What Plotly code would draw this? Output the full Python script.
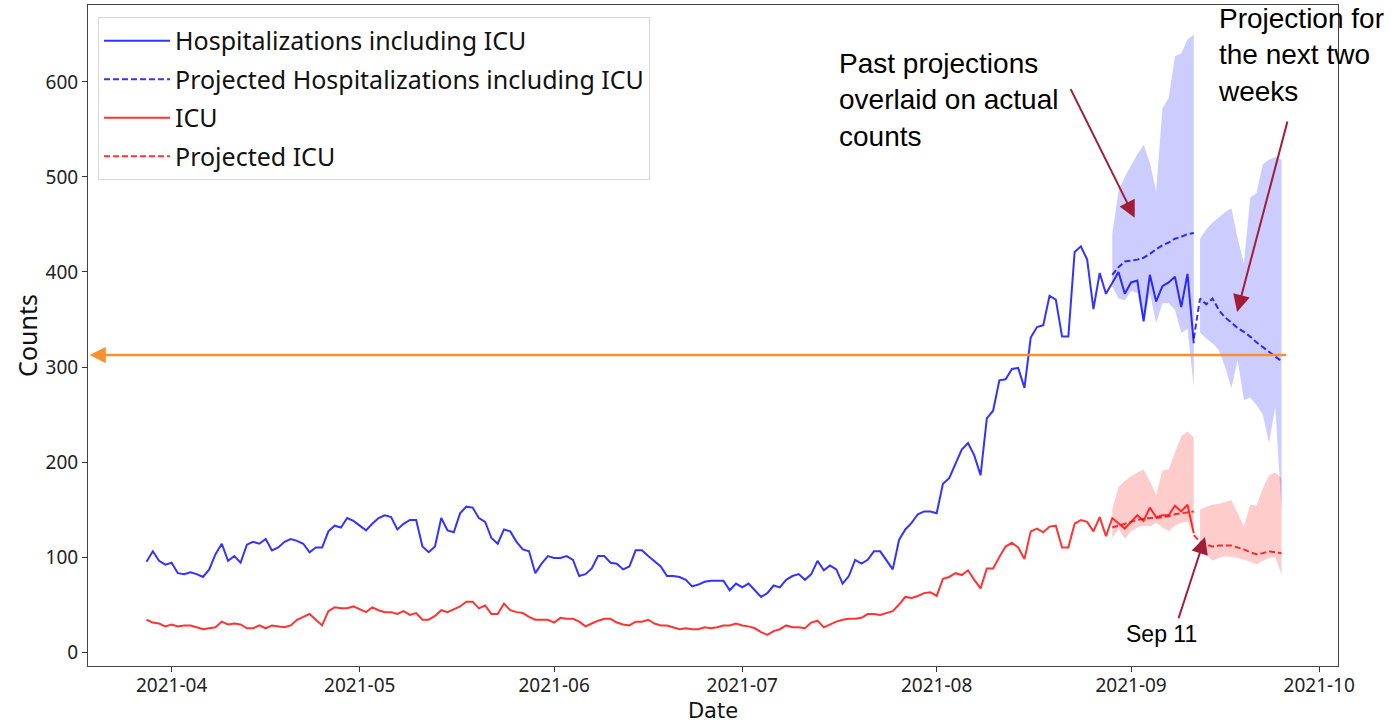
import numpy as np
import pandas as pd
import plotly.graph_objects as go

# ---------------- data ----------------
actual_start = "2021-03-28"
hosp_actual = [95, 106, 96, 92, 94, 83, 82, 84, 82, 79,
               87, 103, 114, 96, 101, 94, 113, 116, 114, 119,
               107, 110, 116, 119, 117, 114, 105, 110, 110, 127,
               133, 131, 141, 138, 133, 128, 135, 141, 144, 142,
               129, 135, 139, 139, 111, 105, 111, 141, 128, 126,
               146, 153, 152, 141, 137, 120, 114, 129, 127, 116,
               108, 106, 83, 93, 101, 99, 99, 101, 97, 80,
               82, 88, 101, 101, 94, 93, 87, 90, 107, 107,
               101, 95, 90, 80, 80, 79, 76, 69, 71, 74,
               75, 75, 75, 65, 72, 68, 72, 65, 58, 62,
               70, 68, 76, 80, 82, 76, 82, 96, 86, 91,
               87, 72, 80, 97, 93, 97, 106, 106, 97, 87,
               118, 129, 136, 145, 148, 148, 146, 177, 183, 199,
               213, 220, 207, 186, 246, 254, 286, 287, 298, 299,
               278, 331, 342, 344, 375, 371, 332, 332, 421, 427,
               413, 361, 399, 377, 389, 400, 377, 389, 391, 348,
               397, 369, 385, 389, 395, 363, 398, 325]
icu_actual = [34, 31, 30, 27, 29, 27, 28, 28, 26, 24,
              25, 26, 32, 29, 30, 29, 25, 25, 28, 25,
              28, 27, 26, 28, 34, 37, 40, 34, 28, 43,
              47, 46, 46, 48, 45, 42, 47, 44, 42, 42,
              40, 43, 39, 41, 34, 34, 38, 44, 42, 45,
              48, 53, 53, 46, 49, 40, 40, 51, 44, 42,
              41, 37, 34, 34, 34, 31, 36, 35, 35, 32,
              27, 30, 33, 35, 35, 31, 29, 28, 32, 32,
              34, 30, 28, 28, 26, 24, 25, 24, 24, 26,
              25, 26, 28, 28, 30, 28, 27, 25, 21, 18,
              22, 24, 28, 26, 26, 25, 31, 33, 26, 29,
              32, 34, 35, 35, 36, 40, 40, 39, 41, 43,
              50, 58, 57, 59, 62, 63, 59, 77, 79, 83,
              81, 86, 76, 67, 88, 88, 100, 111, 115, 110,
              98, 127, 130, 126, 132, 133, 110, 110, 135, 139,
              137, 127, 142, 122, 141, 135, 130, 137, 144, 138,
              152, 142, 144, 144, 154, 148, 155, 125]

past_start = "2021-08-29"
hosp_past_proj = [397, 405, 411, 412, 413, 415, 419, 424, 428, 431, 435, 437, 440, 441]
hosp_past_lo = [385, 372, 370, 380, 378, 347, 378, 346, 367, 367, 360, 336, 340, 279]
hosp_past_hi = [440, 485, 500, 512, 524, 534, 515, 485, 572, 583, 627, 630, 645, 650]
icu_past_proj = [131, 133, 135, 137, 139, 140, 141, 141, 142, 143, 145, 146, 147, 148]
icu_past_lo = [120, 130, 119, 127, 131, 133, 132, 136, 131, 127, 133, 136, 137, 125]
icu_past_hi = [150, 174, 180, 185, 189, 192, 180, 165, 191, 192, 210, 227, 232, 226]

future_line_start = "2021-09-11"
hosp_future_proj = [330, 372, 366, 372, 360, 352, 347, 341, 337, 332, 326, 321, 316, 311, 306]
icu_future_proj = [123, 116, 113, 111, 112, 112, 112, 110, 108, 105, 103, 104, 106, 105, 104]

future_band_start = "2021-09-12"
hosp_future_lo = [336, 330, 325, 318, 300, 278, 307, 265, 268, 260, 250, 220, 258, 150]
hosp_future_hi = [435, 445, 452, 458, 463, 467, 435, 409, 478, 483, 513, 518, 521, 518]
icu_future_lo = [108, 102, 96, 99, 101, 100, 99, 97, 95, 92, 96, 99, 100, 81]
icu_future_hi = [150, 153, 155, 156, 158, 160, 146, 132, 155, 154, 172, 186, 189, 183]

capacity_level = 312.6
capacity_end = "2021-09-26"

x_tick_labels = ["2021-04", "2021-05", "2021-06", "2021-07", "2021-08", "2021-09", "2021-10"]
y_tick_values = [0, 100, 200, 300, 400, 500, 600]

# ---------------- styles ----------------
BLUE = "rgba(0,0,255,0.8)"
RED = "rgba(255,0,0,0.8)"
BLUE_FILL = "rgba(0,0,255,0.2)"
RED_FILL = "rgba(255,0,0,0.2)"
ARROW = "#a11d37"
ORANGE = "#f5922f"
SANS = "Noto Sans, DejaVu Sans, sans-serif"
TICK_FONT = dict(family=SANS, size=19, color="#222222")
ANN_FONT = "Liberation Sans, Arial, sans-serif"

d_actual = pd.date_range(actual_start, periods=len(hosp_actual), freq="D")
d_past = pd.date_range(past_start, periods=len(hosp_past_proj), freq="D")
d_fline = pd.date_range(future_line_start, periods=len(hosp_future_proj), freq="D")
d_fband = pd.date_range(future_band_start, periods=len(hosp_future_lo), freq="D")


def band(dates, lo, hi, color, group):
    xs = list(dates) + list(dates[::-1])
    ys = list(hi) + list(lo[::-1])
    return go.Scatter(x=xs, y=ys, fill="toself", fillcolor=color, mode="lines",
                      line=dict(width=0), hoverinfo="skip", showlegend=False, legendgroup=group)


fig = go.Figure()
fig.add_trace(band(d_past, hosp_past_lo, hosp_past_hi, BLUE_FILL, "ph"))
fig.add_trace(band(d_fband, hosp_future_lo, hosp_future_hi, BLUE_FILL, "ph"))
fig.add_trace(band(d_past, icu_past_lo, icu_past_hi, RED_FILL, "pi"))
fig.add_trace(band(d_fband, icu_future_lo, icu_future_hi, RED_FILL, "pi"))

fig.add_trace(go.Scatter(x=d_actual, y=hosp_actual, mode="lines", name="Hospitalizations including ICU",
                         line=dict(color=BLUE, width=2), legendgroup="h", legendrank=1))
fig.add_trace(go.Scatter(x=d_past, y=hosp_past_proj, mode="lines", name="Projected Hospitalizations including ICU",
                         line=dict(color=BLUE, width=2, dash="6px,3px"), legendgroup="ph", legendrank=2))
fig.add_trace(go.Scatter(x=d_fline, y=hosp_future_proj, mode="lines", name="Projected Hospitalizations including ICU",
                         line=dict(color=BLUE, width=2, dash="6px,3px"), legendgroup="ph", showlegend=False))
fig.add_trace(go.Scatter(x=d_actual, y=icu_actual, mode="lines", name="ICU",
                         line=dict(color=RED, width=2), legendgroup="i", legendrank=3))
fig.add_trace(go.Scatter(x=d_past, y=icu_past_proj, mode="lines", name="Projected ICU",
                         line=dict(color=RED, width=2, dash="6px,3px"), legendgroup="pi", legendrank=4))
fig.add_trace(go.Scatter(x=d_fline, y=icu_future_proj, mode="lines", name="Projected ICU",
                         line=dict(color=RED, width=2, dash="6px,3px"), legendgroup="pi", showlegend=False))

# orange capacity arrow (points left)
fig.add_annotation(x="2021-03-18 22:00", y=capacity_level, ax=capacity_end, ay=capacity_level,
                   xref="x", yref="y", axref="x", ayref="y", text="", showarrow=True,
                   arrowhead=2, arrowsize=1.3, arrowwidth=2.5, arrowcolor=ORANGE)

# pointer arrows
fig.add_annotation(x="2021-09-01 14:00", y=457, ax="2021-08-22 06:00", ay=594,
                   xref="x", yref="y", axref="x", ayref="y", text="", showarrow=True,
                   arrowhead=2, arrowsize=1.7, arrowwidth=2, arrowcolor=ARROW)
fig.add_annotation(x="2021-09-17 22:00", y=358, ax="2021-09-26 00:00", ay=560,
                   xref="x", yref="y", axref="x", ayref="y", text="", showarrow=True,
                   arrowhead=2, arrowsize=1.7, arrowwidth=2, arrowcolor=ARROW)
fig.add_annotation(x="2021-09-12 19:00", y=121, ax="2021-09-08 12:00", ay=34,
                   xref="x", yref="y", axref="x", ayref="y", text="", showarrow=True,
                   arrowhead=2, arrowsize=1.7, arrowwidth=2, arrowcolor=ARROW)

# text annotations
fig.add_annotation(xref="paper", yref="paper", x=0.5995, y=0.857, xanchor="left", yanchor="middle",
                   text="Past projections<br>overlaid on actual<br>counts", showarrow=False, align="left",
                   font=dict(family=ANN_FONT, size=28, color="black"))
fig.add_annotation(xref="paper", yref="paper", x=0.902, y=0.925, xanchor="left", yanchor="middle",
                   text="Projection for<br>the next two<br>weeks", showarrow=False, align="left",
                   font=dict(family=ANN_FONT, size=28, color="black"))
fig.add_annotation(xref="paper", yref="paper", x=0.859, y=0.048, xanchor="center", yanchor="middle",
                   text="Sep 11", showarrow=False,
                   font=dict(family=ANN_FONT, size=23, color="black"))

fig.update_xaxes(range=["2021-03-18 16:00", "2021-10-04 00:00"], type="date",
                 tickvals=pd.to_datetime([t + "-01" for t in x_tick_labels]), ticktext=x_tick_labels,
                 ticks="outside", ticklen=5, tickcolor="#333", tickfont=TICK_FONT, ticklabelstandoff=-3,
                 showline=True, mirror=True, linecolor="#444", linewidth=1, showgrid=False, zeroline=False,
                 title=dict(text="Date", font=dict(family="DejaVu Sans, sans-serif", size=21, color="#111"),
                            standoff=6),
                 automargin=False)
fig.update_yaxes(range=[-14.7, 681], tickvals=y_tick_values,
                 ticks="outside", ticklen=5, tickcolor="#333", tickfont=TICK_FONT,
                 showline=True, mirror=True, linecolor="#444", linewidth=1, showgrid=False, zeroline=False,
                 title=dict(text="Counts", font=dict(family=SANS, size=25, color="#111"), standoff=0),
                 automargin=False)

fig.update_layout(
    width=1396, height=724,
    margin=dict(l=88, r=58, t=5, b=58),
    plot_bgcolor="white", paper_bgcolor="white",
    legend=dict(x=0.008, y=0.982, xanchor="left", yanchor="top",
                bgcolor="rgba(255,255,255,0.85)", bordercolor="#d8d8d8", borderwidth=1,
                font=dict(family=SANS, size=25, color="#111"),
                itemwidth=66, traceorder="grouped", tracegroupgap=3),
    showlegend=True,
)

fig.write_html("out.html", config={"displayModeBar": False},
               post_script="document.body.style.margin='0px';")
